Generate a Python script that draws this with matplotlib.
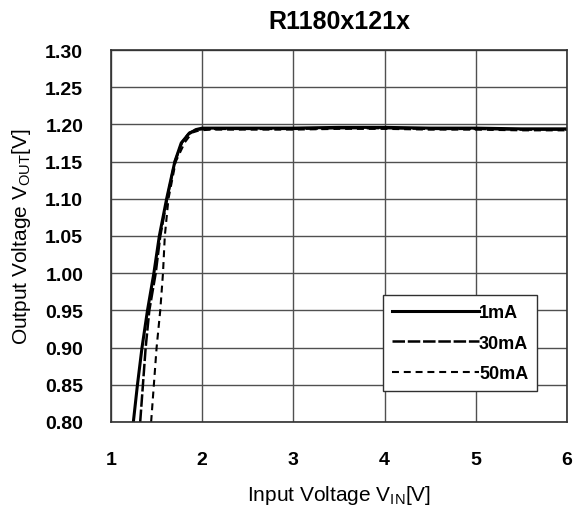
import numpy as np
import matplotlib
matplotlib.use("Agg")
import matplotlib.pyplot as plt

plt.rcParams['font.family'] = ['Liberation Sans', 'DejaVu Sans']
plt.rcParams['mathtext.fontset'] = 'custom'
plt.rcParams['mathtext.rm'] = 'Liberation Sans'
plt.rcParams['lines.scale_dashes'] = False

# data
vin_1mA = [1.245, 1.29, 1.34, 1.40, 1.47, 1.53, 1.61, 1.70, 1.77, 1.85, 1.93, 2.0, 2.5, 3.0, 3.5, 4.0, 4.5, 5.0, 5.5, 6.0]
vout_1mA = [0.80, 0.85, 0.90, 0.95, 1.00, 1.05, 1.10, 1.15, 1.175, 1.187, 1.193, 1.195, 1.195, 1.195, 1.196, 1.196, 1.195, 1.195, 1.194, 1.194]

vin_30mA = [1.32, 1.35, 1.38, 1.42, 1.49, 1.54, 1.615, 1.70, 1.78, 1.86, 1.95, 2.05, 2.5, 3.0, 3.5, 4.0, 4.5, 5.0, 5.5, 6.0]
vout_30mA = [0.80, 0.85, 0.90, 0.95, 1.00, 1.05, 1.10, 1.15, 1.176, 1.189, 1.193, 1.194, 1.194, 1.194, 1.195, 1.195, 1.194, 1.194, 1.193, 1.193]

vin_50mA = [1.44, 1.47, 1.50, 1.54, 1.57, 1.59, 1.63, 1.71, 1.81, 1.89, 1.97, 2.1, 2.5, 3.0, 3.5, 4.0, 4.5, 5.0, 5.5, 6.0]
vout_50mA = [0.80, 0.85, 0.90, 0.95, 1.00, 1.05, 1.10, 1.15, 1.176, 1.189, 1.192, 1.193, 1.193, 1.193, 1.194, 1.194, 1.193, 1.193, 1.192, 1.192]

xticks = [1, 2, 3, 4, 5, 6]
yticks = [0.80, 0.85, 0.90, 0.95, 1.00, 1.05, 1.10, 1.15, 1.20, 1.25, 1.30]

fig = plt.figure(figsize=(5.74, 5.06), dpi=100)
ax = fig.add_axes([111/574, 83/506, 456/574, 372/506])

ax.plot(vin_1mA, vout_1mA, color='black', lw=2.2, label='1mA')
ax.plot(vin_30mA, vout_30mA, color='black', lw=1.8, dashes=(9, 2), label='30mA')
ax.plot(vin_50mA, vout_50mA, color='black', lw=1.5, dashes=(5, 3.5), label='50mA')

ax.set_xlim(1, 6)
ax.set_ylim(0.80, 1.30)
ax.set_xticks(xticks)
ax.set_yticks(yticks)
ax.set_xticklabels([str(t) for t in xticks], fontsize=14, fontweight='bold')
ax.set_yticklabels(['%.2f' % t for t in yticks], fontsize=14, fontweight='bold')
ax.tick_params(axis='x', length=0, pad=21)
ax.tick_params(axis='y', length=0, pad=20)
ax.grid(True, color='#505050', lw=1)
for s in ax.spines.values():
    s.set_color('#303030')
    s.set_linewidth(1.2)

ax.set_xlabel(r'Input Voltage V$_{\mathregular{IN}}$[V]', fontsize=15, labelpad=11)
ax.set_ylabel(r'Output Voltage V$_{\mathregular{OUT}}$[V]', fontsize=15, labelpad=9)
ax.set_title('R1180x121x', fontsize=18, fontweight='bold', pad=16)

leg = ax.legend(loc='lower right', bbox_to_anchor=(0.935, 0.083), fontsize=13,
                handlelength=4.8, handletextpad=0.0, fancybox=False,
                framealpha=1, edgecolor='#303030', borderpad=0.5, labelspacing=0.75,
                borderaxespad=0)
leg.get_frame().set_linewidth(1.0)
for t in leg.get_texts():
    t.set_fontweight('bold')

fig.savefig('out.png', dpi=100)
